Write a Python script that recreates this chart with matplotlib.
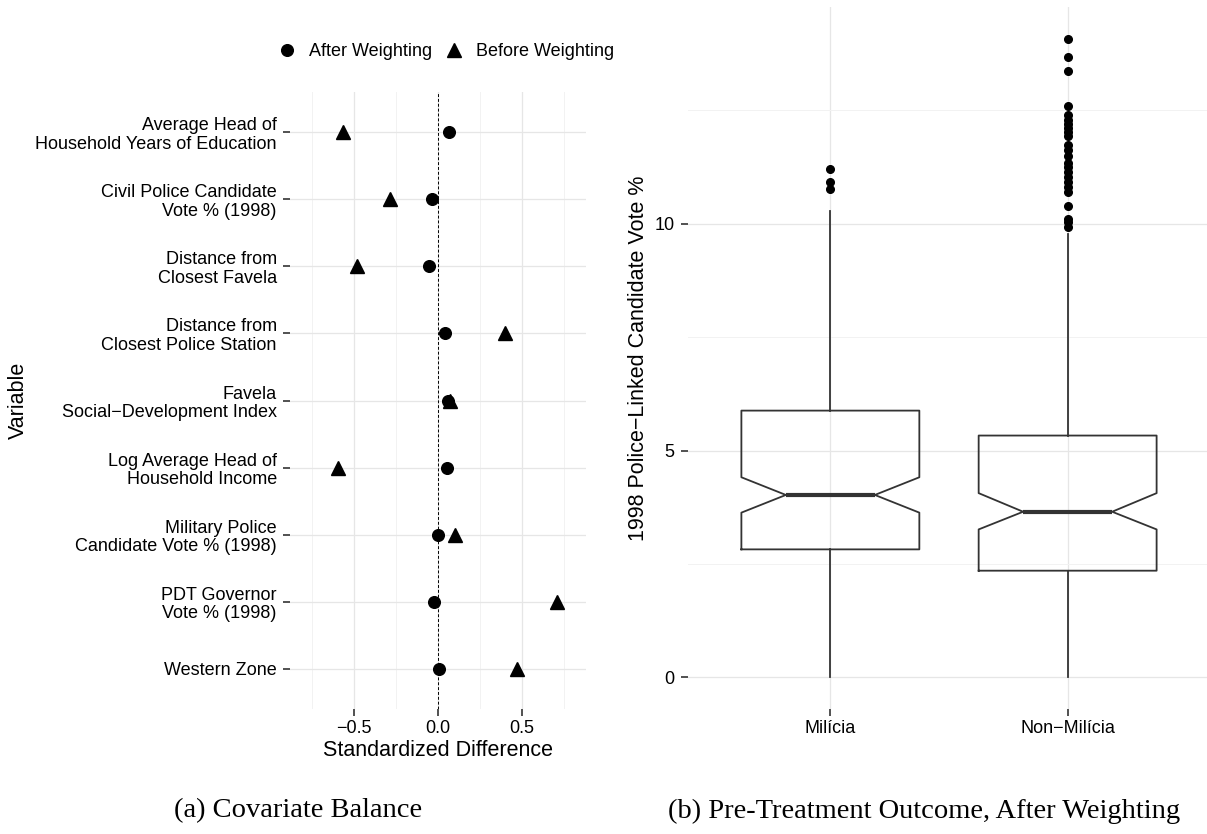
import numpy as np
import matplotlib
matplotlib.use("Agg")
import matplotlib.pyplot as plt
from matplotlib.lines import Line2D

plt.rcParams['font.family'] = ['Liberation Sans', 'DejaVu Sans']

# Left panel: covariate balance
variables = [
    "Average Head of\nHousehold Years of Education",
    "Civil Police Candidate\nVote % (1998)",
    "Distance from\nClosest Favela",
    "Distance from\nClosest Police Station",
    "Favela\nSocial\u2212Development Index",
    "Log Average Head of\nHousehold Income",
    "Military Police\nCandidate Vote % (1998)",
    "PDT Governor\nVote % (1998)",
    "Western Zone",
]
after_weighting = [0.068, -0.033, -0.054, 0.042, 0.059, 0.056, -0.002, -0.021, 0.005]
before_weighting = [-0.563, -0.284, -0.479, 0.397, 0.070, -0.592, 0.100, 0.707, 0.467]
x_ticks = [-0.5, 0.0, 0.5]

# Right panel: pre-treatment outcome boxplots (summary stats)
groups = ["Mil\u00edcia", "Non\u2212Mil\u00edcia"]
q1 = [2.82, 2.35]
medians = [4.02, 3.65]
q3 = [5.88, 5.33]
notch_lo = [3.63, 3.26]
notch_hi = [4.41, 4.06]
whisker_lo = [0.0, 0.0]
whisker_hi = [10.29, 9.77]
outliers = [
    [10.77, 10.93, 11.21],
    [9.92, 10.03, 10.11, 10.40, 10.70, 10.82, 10.93, 11.04, 11.15, 11.25,
     11.34, 11.49, 11.63, 11.73, 11.93, 12.02, 12.11, 12.21, 12.29, 12.40,
     12.60, 13.37, 13.68, 14.08],
]
y_ticks = [0, 5, 10]

W, H = 1207, 834
fig = plt.figure(figsize=(W / 100, H / 100), dpi=100)

grid_major = '#e6e6e6'
grid_minor = '#f2f2f2'
ink = '#333333'

# ---------- left ----------
ax1 = fig.add_axes([290 / W, 1 - 709 / H, 296 / W, 617 / H])
rows = np.arange(1, len(variables) + 1)
ax1.set_xlim(-0.88, 0.88)
ax1.set_ylim(9.6, 0.4)
ax1.set_xticks(x_ticks)
ax1.set_xticklabels(["\u22120.5", "0.0", "0.5"])
ax1.set_xticks([-0.75, -0.25, 0.25, 0.75], minor=True)
ax1.set_yticks(rows)
ax1.set_yticklabels(variables, linespacing=1.12)
for lab in ax1.get_yticklabels():
    lab.set_multialignment('right')
ax1.grid(True, which='major', color=grid_major, lw=0.9)
ax1.grid(True, which='minor', axis='x', color=grid_minor, lw=0.7)
ax1.set_axisbelow(True)
ax1.axvline(0, color='black', lw=0.7, ls=(0, (3, 2)), zorder=2)
ax1.plot(after_weighting, rows, 'o', color='black', ms=8.4, ls='none', zorder=3)
ax1.plot(before_weighting, rows, '^', color='black', ms=10.5, ls='none', zorder=4)
for s in ax1.spines.values():
    s.set_visible(False)
ax1.tick_params(axis='both', which='major', length=5, width=1.2, color=ink,
                labelsize=13, labelcolor='black')
ax1.tick_params(axis='y', pad=4.5)
ax1.tick_params(axis='x', pad=3)
ax1.tick_params(which='minor', length=0)
ax1.set_xlabel("Standardized Difference", fontsize=15.5, labelpad=2)

fig.text(18 / W, 1 - 400 / H, "Variable", rotation=90, fontsize=15.5,
         ha='center', va='center')

handles = [
    Line2D([], [], marker='o', color='black', ls='none', ms=8.4),
    Line2D([], [], marker='^', color='black', ls='none', ms=10.5),
]
fig.legend(handles, ["After Weighting", "Before Weighting"], loc='center',
           bbox_to_anchor=(446 / W, 1 - 52 / H), ncol=2, frameon=False,
           fontsize=13, handlelength=1.0, handletextpad=0.7, columnspacing=0.7)

# ---------- right ----------
ax2 = fig.add_axes([688 / W, 1 - 709 / H, 522 / W, 702 / H])
stats = []
for i in range(len(groups)):
    stats.append(dict(med=medians[i], q1=q1[i], q3=q3[i],
                      cilo=notch_lo[i], cihi=notch_hi[i],
                      whislo=whisker_lo[i], whishi=whisker_hi[i],
                      fliers=outliers[i], label=groups[i]))
pos = [1, 2]
ax2.bxp(stats, positions=pos, widths=0.75, shownotches=True, showcaps=False,
        boxprops=dict(color=ink, lw=1.3),
        whiskerprops=dict(color=ink, lw=1.3),
        medianprops=dict(color=ink, lw=3.0),
        flierprops=dict(marker='o', markerfacecolor='black',
                        markeredgecolor='black', markersize=5.5),
        zorder=3)
ax2.set_xlim(0.4, 2.6)
ax2.set_ylim(-0.70, 14.78)
ax2.set_xticks(pos)
ax2.set_xticklabels(groups)
ax2.set_yticks(y_ticks)
ax2.set_yticks([2.5, 7.5, 12.5], minor=True)
ax2.grid(True, which='major', color=grid_major, lw=0.9)
ax2.grid(True, which='minor', axis='y', color=grid_minor, lw=0.7)
ax2.set_axisbelow(True)
for s in ax2.spines.values():
    s.set_visible(False)
ax2.tick_params(axis='both', which='major', length=5, width=1.2, color=ink,
                labelsize=13, labelcolor='black')
ax2.tick_params(axis='y', pad=4.5)
ax2.tick_params(axis='x', pad=3)
ax2.tick_params(which='minor', length=0)
fig.text(638 / W, 1 - 358 / H, "1998 Police\u2212Linked Candidate Vote %",
         rotation=90, fontsize=15.5, ha='center', va='center')

# ---------- captions ----------
fig.text(298 / W, 1 - 811 / H, "(a) Covariate Balance", fontsize=20.5,
         family='Liberation Serif', ha='center', va='center')
fig.text(924 / W, 1 - 811 / H, "(b) Pre-Treatment Outcome, After Weighting",
         fontsize=20.5, family='Liberation Serif', ha='center', va='center')

fig.savefig("out.png", dpi=100, facecolor='white')
